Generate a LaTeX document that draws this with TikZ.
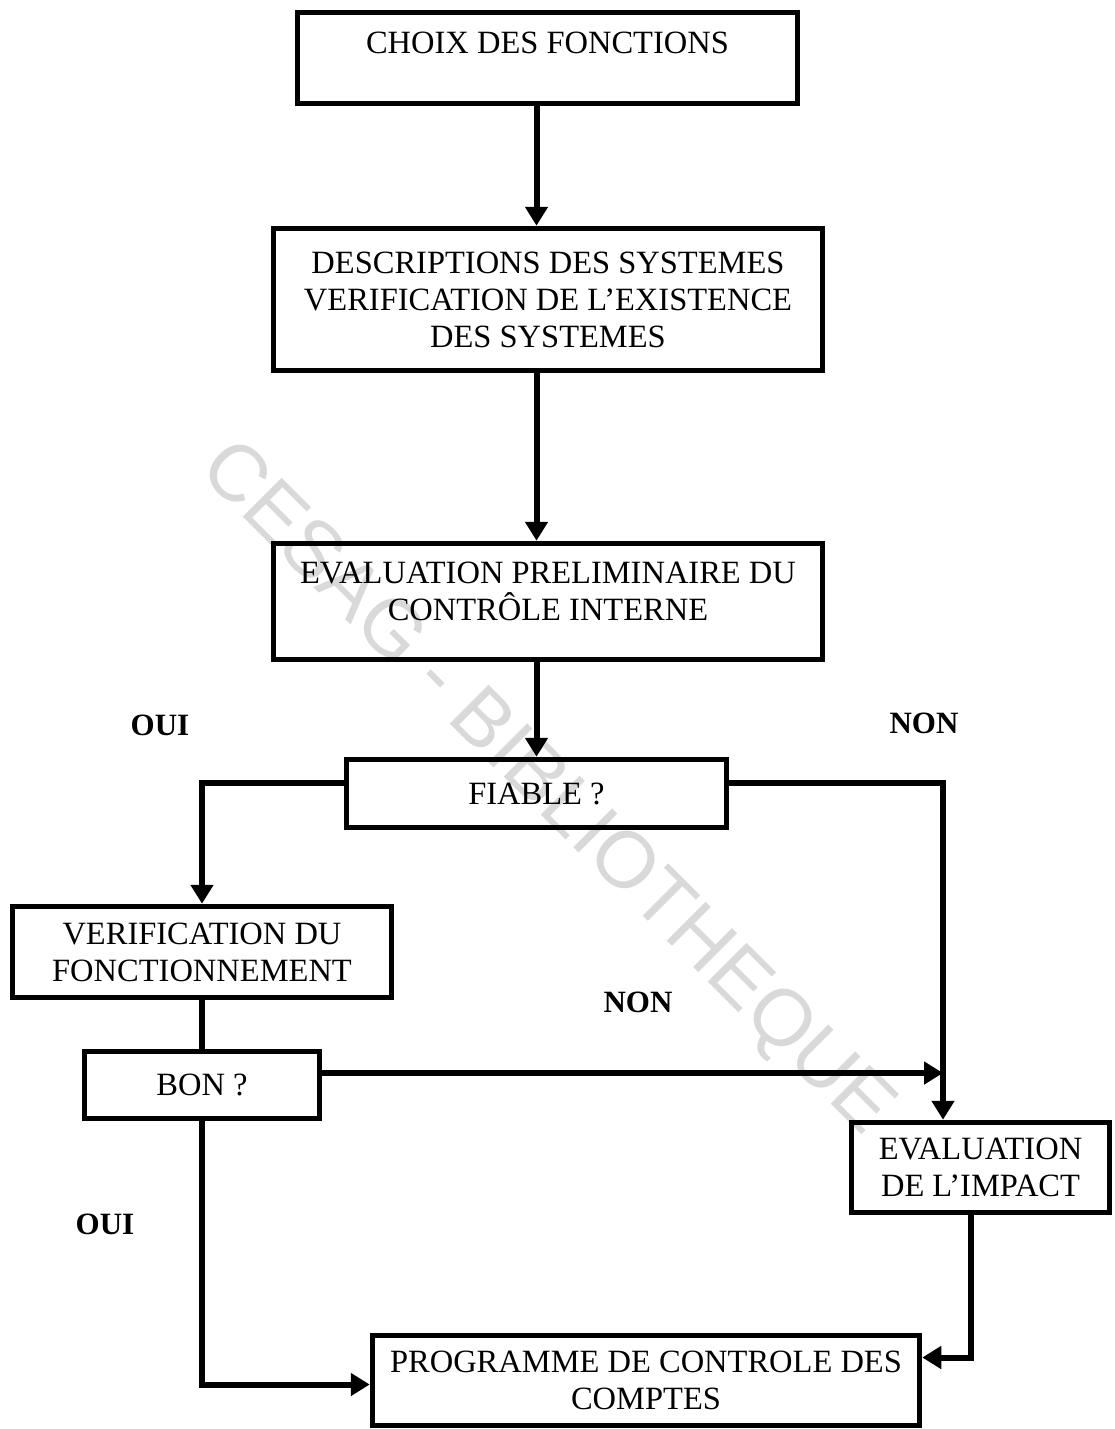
\documentclass[tikz,border=0pt]{standalone}
\usepackage{fontspec}
\setmainfont{Liberation Serif}
\newfontfamily\wmfont{Liberation Sans}
\usetikzlibrary{arrows.meta}
\begin{document}
\begin{tikzpicture}
	[	x=1pt,y=-1pt,
	box/.style={rectangle,draw=black,line width=5.5pt,inner sep=0pt,align=center,font=\fontsize{32.5}{37}\selectfont},
	plain/.style={draw=none,fill=none,font=\fontsize{31}{34}\selectfont\bfseries},
	arr/.style={line width=6pt,-{Triangle[length=19pt,width=22pt]}},
	lin/.style={line width=6pt}
	]
	\useasboundingbox (0,0) rectangle (1114,1429);
	\node[text=gray!30,font=\wmfont\fontsize{80}{80}\selectfont,rotate=-45] (wm) at (545,790) {CESAG - BIBLIOTHEQUE};

	\node[box,minimum width=500,minimum height=91,text depth=30pt] (choix) at (547.5,58) {CHOIX DES FONCTIONS};
	\node[box,minimum width=549,minimum height=142] (desc) at (548,299.5) {DESCRIPTIONS DES SYSTEMES\\VERIFICATION DE L’EXISTENCE\\DES SYSTEMES};
	\node[box,minimum width=549,minimum height=116,text depth=20pt] (eval) at (548,601.5) {EVALUATION PRELIMINAIRE DU\\CONTRÔLE INTERNE};
	\node[box,minimum width=380,minimum height=68] (fiable) at (536.5,793.5) {FIABLE ?};
	\node[box,minimum width=379,minimum height=91] (verif) at (202,952) {VERIFICATION DU\\FONCTIONNEMENT};
	\node[box,minimum width=235,minimum height=67] (bon) at (202,1085) {BON ?};
	\node[box,minimum width=258,minimum height=90] (impact) at (980.5,1167.5) {EVALUATION\\DE L’IMPACT};
	\node[box,minimum width=547,minimum height=90] (prog) at (646,1380.5) {PROGRAMME DE CONTROLE DES\\COMPTES};
	\coordinate (joint) at (943,1073);

\node[plain] (oui1) at (160,725) {OUI};
\node[plain] (non1) at (924,723) {NON};
\node[plain] (non2) at (638,1002) {NON};
\node[plain] (oui2) at (105,1224) {OUI};

	\draw[arr] (choix.south -| fiable.north) -- (desc.north -| fiable.north);
	\draw[arr] (desc.south -| fiable.north) -- (eval.north -| fiable.north);
	\draw[arr] (eval.south -| fiable.north) -- (fiable.north);
	\draw[arr] ([yshift=11pt]fiable.west) -| (verif.north);
	\draw[arr] ([yshift=11pt]fiable.east) -| (impact.north -| joint);
	\draw[lin] (verif.south) -- (bon.north);
	\draw[arr] ([yshift=12pt]bon.east) -- (joint);
	\draw[arr] (bon.south) |- ([yshift=-4pt]prog.west);
	\draw[arr] ([xshift=-10pt]impact.south) |- ([yshift=23pt]prog.east);
	\end{tikzpicture}
\end{document}
